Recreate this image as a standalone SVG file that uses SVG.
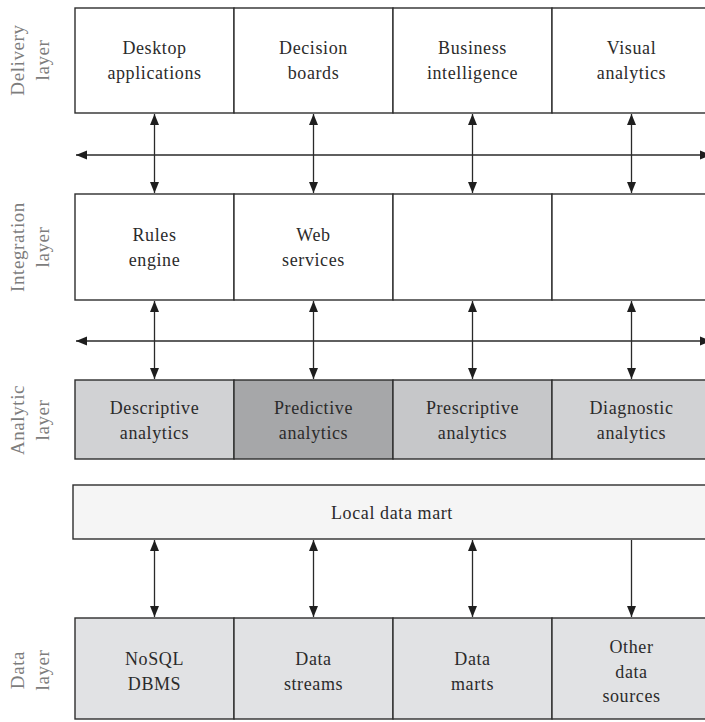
<svg xmlns="http://www.w3.org/2000/svg" width="705" height="722" viewBox="0 0 705 722">
  <style>
    .box { stroke: #2e2e2e; stroke-width: 1.4; }
    .white { fill: #ffffff; }
    .light { fill: #d1d2d4; }
    .mid { fill: #c6c7c9; }
    .dark { fill: #a6a7a9; }
    .data { fill: #e1e2e4; }
    .mart { fill: #f5f5f5; }
    .lbl { font-size: 18px; fill: #2b2b2b; text-anchor: middle; letter-spacing: 0.6px; }
    .layer { font-size: 19px; fill: #7d7d7d; text-anchor: middle; letter-spacing: 0.6px; }
    .conn { stroke: #2a2a2a; stroke-width: 1.3; fill: none; }
  </style>
  <defs>
    <marker id="head" viewBox="0 0 11 10" refX="11" refY="5" markerWidth="11" markerHeight="10" markerUnits="userSpaceOnUse" orient="auto-start-reverse">
      <path d="M0,0.5 L11,5 L0,9.5 z" fill="#1e1e1e"/>
    </marker>
  </defs>

  <g font-family="Liberation Serif, DejaVu Serif, serif">
  <!-- layer captions -->
  <g id="layer-labels">
    <text class="layer" transform="translate(24,60) rotate(-90)">Delivery</text>
    <text class="layer" transform="translate(49,60) rotate(-90)">layer</text>
    <text class="layer" transform="translate(24,247) rotate(-90)">Integration</text>
    <text class="layer" transform="translate(49,247) rotate(-90)">layer</text>
    <text class="layer" transform="translate(24,420) rotate(-90)">Analytic</text>
    <text class="layer" transform="translate(49,420) rotate(-90)">layer</text>
    <text class="layer" transform="translate(24,670) rotate(-90)">Data</text>
    <text class="layer" transform="translate(49,670) rotate(-90)">layer</text>
  </g>

  <!-- delivery layer -->
  <g id="desktop-applications">
    <rect class="box white" x="75" y="8" width="159" height="105"/>
    <text class="lbl" x="154.5" y="54">Desktop</text>
    <text class="lbl" x="154.5" y="79">applications</text>
  </g>
  <g id="decision-boards">
    <rect class="box white" x="234" y="8" width="159" height="105"/>
    <text class="lbl" x="313.5" y="54">Decision</text>
    <text class="lbl" x="313.5" y="79">boards</text>
  </g>
  <g id="business-intelligence">
    <rect class="box white" x="393" y="8" width="159" height="105"/>
    <text class="lbl" x="472.5" y="54">Business</text>
    <text class="lbl" x="472.5" y="79">intelligence</text>
  </g>
  <g id="visual-analytics">
    <rect class="box white" x="552" y="8" width="159" height="105"/>
    <text class="lbl" x="631.5" y="54">Visual</text>
    <text class="lbl" x="631.5" y="79">analytics</text>
  </g>

  <!-- integration layer -->
  <g id="rules-engine">
    <rect class="box white" x="75" y="194" width="159" height="106"/>
    <text class="lbl" x="154.5" y="241">Rules</text>
    <text class="lbl" x="154.5" y="266">engine</text>
  </g>
  <g id="web-services">
    <rect class="box white" x="234" y="194" width="159" height="106"/>
    <text class="lbl" x="313.5" y="241">Web</text>
    <text class="lbl" x="313.5" y="266">services</text>
  </g>
  <g id="integration-slot-3">
    <rect class="box white" x="393" y="194" width="159" height="106"/>
  </g>
  <g id="integration-slot-4">
    <rect class="box white" x="552" y="194" width="159" height="106"/>
  </g>

  <!-- analytic layer -->
  <g id="descriptive-analytics">
    <rect class="box light" x="75" y="380" width="159" height="79"/>
    <text class="lbl" x="154.5" y="414">Descriptive</text>
    <text class="lbl" x="154.5" y="439">analytics</text>
  </g>
  <g id="predictive-analytics">
    <rect class="box dark" x="234" y="380" width="159" height="79"/>
    <text class="lbl" x="313.5" y="414">Predictive</text>
    <text class="lbl" x="313.5" y="439">analytics</text>
  </g>
  <g id="prescriptive-analytics">
    <rect class="box mid" x="393" y="380" width="159" height="79"/>
    <text class="lbl" x="472.5" y="414">Prescriptive</text>
    <text class="lbl" x="472.5" y="439">analytics</text>
  </g>
  <g id="diagnostic-analytics">
    <rect class="box light" x="552" y="380" width="159" height="79"/>
    <text class="lbl" x="631.5" y="414">Diagnostic</text>
    <text class="lbl" x="631.5" y="439">analytics</text>
  </g>

  <!-- local data mart -->
  <g id="local-data-mart">
    <rect class="box mart" x="73" y="485" width="640" height="54"/>
    <text class="lbl" x="392" y="519">Local data mart</text>
  </g>

  <!-- data layer -->
  <g id="nosql-dbms">
    <rect class="box data" x="75" y="618" width="159" height="101"/>
    <text class="lbl" x="154.5" y="665">NoSQL</text>
    <text class="lbl" x="154.5" y="690">DBMS</text>
  </g>
  <g id="data-streams">
    <rect class="box data" x="234" y="618" width="159" height="101"/>
    <text class="lbl" x="313.5" y="665">Data</text>
    <text class="lbl" x="313.5" y="690">streams</text>
  </g>
  <g id="data-marts">
    <rect class="box data" x="393" y="618" width="159" height="101"/>
    <text class="lbl" x="472.5" y="665">Data</text>
    <text class="lbl" x="472.5" y="690">marts</text>
  </g>
  <g id="other-data-sources">
    <rect class="box data" x="552" y="618" width="159" height="101"/>
    <text class="lbl" x="631.5" y="653">Other</text>
    <text class="lbl" x="631.5" y="678">data</text>
    <text class="lbl" x="631.5" y="702">sources</text>
  </g>
  </g>

  <!-- connectors -->
  <g id="connectors" class="conn">
    <!-- horizontal buses -->
    <line x1="76" y1="155" x2="711" y2="155" marker-start="url(#head)" marker-end="url(#head)"/>
    <line x1="76" y1="341" x2="711" y2="341" marker-start="url(#head)" marker-end="url(#head)"/>
    <!-- delivery <-> integration -->
    <line x1="154.5" y1="114" x2="154.5" y2="193" marker-start="url(#head)" marker-end="url(#head)"/>
    <line x1="313.5" y1="114" x2="313.5" y2="193" marker-start="url(#head)" marker-end="url(#head)"/>
    <line x1="472.5" y1="114" x2="472.5" y2="193" marker-start="url(#head)" marker-end="url(#head)"/>
    <line x1="631.5" y1="114" x2="631.5" y2="193" marker-start="url(#head)" marker-end="url(#head)"/>
    <!-- integration <-> analytic -->
    <line x1="154.5" y1="301" x2="154.5" y2="379" marker-start="url(#head)" marker-end="url(#head)"/>
    <line x1="313.5" y1="301" x2="313.5" y2="379" marker-start="url(#head)" marker-end="url(#head)"/>
    <line x1="472.5" y1="301" x2="472.5" y2="379" marker-start="url(#head)" marker-end="url(#head)"/>
    <line x1="631.5" y1="301" x2="631.5" y2="379" marker-start="url(#head)" marker-end="url(#head)"/>
    <!-- local data mart <-> data layer -->
    <line x1="154.5" y1="540" x2="154.5" y2="617" marker-start="url(#head)" marker-end="url(#head)"/>
    <line x1="313.5" y1="540" x2="313.5" y2="617" marker-start="url(#head)" marker-end="url(#head)"/>
    <line x1="472.5" y1="540" x2="472.5" y2="617" marker-start="url(#head)" marker-end="url(#head)"/>
    <line x1="631.5" y1="540" x2="631.5" y2="617" marker-end="url(#head)"/>
  </g>
</svg>
